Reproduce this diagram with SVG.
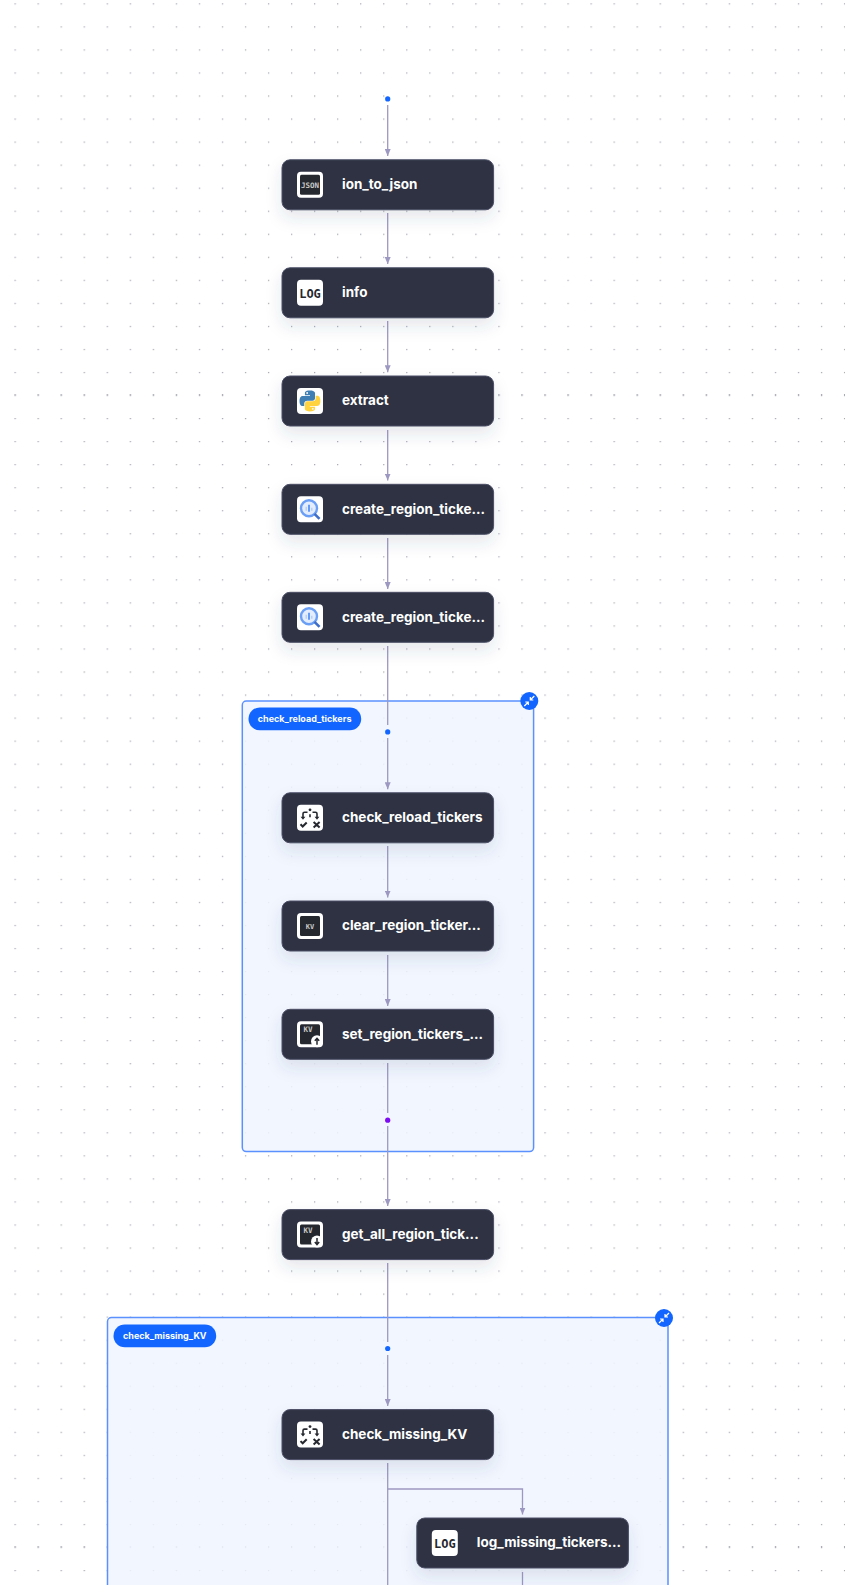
<svg xmlns="http://www.w3.org/2000/svg" xmlns:xlink="http://www.w3.org/1999/xlink" width="845" height="1585" viewBox="0 0 845 1585">
<style>
.t{font-family:"Inter","Liberation Sans",sans-serif;font-size:13.5px;font-weight:700;fill:#fff}
.p{font-family:"Inter","Liberation Sans",sans-serif;font-size:9px;font-weight:700;fill:#fff;text-anchor:middle}
.n{fill:#2e3342;stroke:#4b4e66;stroke-width:1}
.g{fill:#f0f5ff;fill-opacity:.85;stroke:#5b91ff;stroke-width:1.5}
.e{fill:none;stroke:#9d98c2;stroke-width:1.3}
.ib{fill:#fff}
.id{fill:#26282f}
.im{font-family:"DejaVu Sans Mono","Liberation Mono",monospace;font-weight:700;text-anchor:middle}
.s{fill:none;stroke:#26282f;stroke-width:1.6}
</style>
<defs>
<pattern id="dots" x="14.5" y="3.3" width="23.04" height="23.04" patternUnits="userSpaceOnUse">
<circle cx="0.6" cy="0.6" r="0.7" fill="#a0a2ad"/>
</pattern>
<marker id="arr" markerWidth="8" markerHeight="6" refX="7" refY="3" orient="auto" markerUnits="userSpaceOnUse">
<path d="M0 0L7 3L0 6Z" fill="#9d98c2"/>
</marker>
<filter id="sh" x="-20%" y="-40%" width="140%" height="200%">
<feDropShadow dx="0" dy="8" stdDeviation="8" flood-color="#3a3f66" flood-opacity=".12"/>
</filter>
<g id="ic-flow">
<rect class="ib" width="26" height="26" rx="4"/>
<circle cx="13" cy="5" r="1.4" fill="#26282f"/>
<path class="s" d="M10.500 7.500H7.500Q6 7.500 6 9V12.500M15.500 7.500H18.500Q20 7.500 20 9V12.500M13 9.500v3"/>
<path d="M3.600 12h4.800L6 15ZM17.600 12h4.800L20 15Z" fill="#26282f"/>
<path d="M3.500 19.500l2.200 2.200 4-4M16.600 17.300l6 5.500M22.600 17.300l-6 5.500" fill="none" stroke="#26282f" stroke-width="2"/>
</g>
<g id="ic-bq">
<rect class="ib" width="26" height="26" rx="4"/>
<circle cx="12" cy="12" r="8" fill="#e3edfe" stroke="#6a9ff5" stroke-width="2.400"/>
<path d="M12 8.500v7" stroke="#4285f4" stroke-width="1.600"/>
<path d="M9.200 10.500v4M14.800 11.500v3" stroke="#aac8f8" stroke-width="1.200"/>
<path d="M17.500 17.500L22.500 22.500" stroke="#3f6fc9" stroke-width="2.600"/>
</g>
<g id="ic-collapse">
<circle r="9" fill="#1266ff"/>
<path d="M1 -1L5 -5M1 -4V-1H4M-1 1L-5 5M-1 4V1H-4" fill="none" stroke="#fff" stroke-width="1.200"/>
</g>
</defs>
<rect width="845" height="1585" fill="#fff"/>
<rect width="845" height="1585" fill="url(#dots)"/>

<g id="group-check_reload_tickers">
<rect class="g" x="242.300" y="701" width="291.300" height="450.600" rx="4"/>
<rect x="248.500" y="707.500" width="112.700" height="22.700" rx="11.300" fill="#1266ff"/>
<text class="p" x="304.600" y="722">check_reload_tickers</text>
<use xlink:href="#ic-collapse" href="#ic-collapse" x="529.300" y="701"/>
</g>
<g id="group-check_missing_KV">
<path class="g" d="M107.500 1600V1321.600a4 4 0 0 1 4-4H664a4 4 0 0 1 4 4V1600"/>
<rect x="113.500" y="1324.500" width="102.700" height="22.700" rx="11.300" fill="#1266ff"/>
<text class="p" x="164.800" y="1339">check_missing_KV</text>
<use xlink:href="#ic-collapse" href="#ic-collapse" x="664" y="1318"/>
</g>

<g id="connectors">
<path class="e" marker-end="url(#arr)" d="M387.700 105V156"/>
<path class="e" marker-end="url(#arr)" d="M387.700 213V264"/>
<path class="e" marker-end="url(#arr)" d="M387.700 321V372.200"/>
<path class="e" marker-end="url(#arr)" d="M387.700 430V480.500"/>
<path class="e" marker-end="url(#arr)" d="M387.700 538V589"/>
<path class="e" d="M387.700 646V725"/>
<path class="e" marker-end="url(#arr)" d="M387.700 738V789.200"/>
<path class="e" marker-end="url(#arr)" d="M387.700 846V897.500"/>
<path class="e" marker-end="url(#arr)" d="M387.700 955V1006"/>
<path class="e" d="M387.700 1063V1113"/>
<path class="e" marker-end="url(#arr)" d="M387.700 1126V1206"/>
<path class="e" d="M387.700 1263V1342"/>
<path class="e" marker-end="url(#arr)" d="M387.700 1355V1406"/>
<path class="e" d="M387.700 1463V1585"/>
<path class="e" marker-end="url(#arr)" d="M387.700 1489H522.500V1514.500"/>
<path class="e" d="M522.500 1572V1585"/>
</g>
<circle id="start-dot" cx="387.700" cy="98.900" r="2.600" fill="#1266ff"/>
<circle id="reload-start-dot" cx="387.700" cy="731.900" r="2.600" fill="#1266ff"/>
<circle id="reload-end-dot" cx="387.700" cy="1120.200" r="2.600" fill="#7d0cf2"/>
<circle id="missing-start-dot" cx="387.700" cy="1348.500" r="2.600" fill="#1266ff"/>

<g id="node-ion_to_json" transform="translate(282 159.800)">
<rect class="n" width="211.600" height="50" rx="8" filter="url(#sh)"/>
<g transform="translate(15 12)"><rect class="ib" width="26" height="26" rx="4"/><rect class="id" x="3" y="3" width="20" height="20" rx="1.500"/><text class="im" x="13" y="16" font-size="7.500" fill="#c8c8c8">JSON</text></g>
<text class="t" x="60" y="29.400">ion_to_json</text>
</g>
<g id="node-info" transform="translate(282 267.800)">
<rect class="n" width="211.600" height="50" rx="8" filter="url(#sh)"/>
<g transform="translate(15 12)"><rect class="ib" width="26" height="26" rx="4"/><text class="im" x="13" y="18" font-size="12" fill="#26282f">LOG</text></g>
<text class="t" x="60" y="29.400">info</text>
</g>
<g id="node-extract" transform="translate(282 376)">
<rect class="n" width="211.600" height="50" rx="8" filter="url(#sh)"/>
<g transform="translate(15 12)"><rect class="ib" width="26" height="26" rx="4"/>
<g transform="translate(2.500 2.500) scale(.19)">
<path fill="#3f7fb3" d="M54.900 0C26.900 0 28.600 12.200 28.600 12.200l0 12.600h26.700v3.800H18c0 0-17.900-2-17.900 26.200s15.600 27.200 15.600 27.200h9.300V69s-.5-15.600 15.300-15.600h26.500s14.900.2 14.900-14.400V14.800S84 0 54.900 0zM40.200 8.500a4.800 4.800 0 110 9.600 4.800 4.800 0 010-9.600z"/>
<path fill="#ffd340" transform="rotate(180 55 55)" d="M54.900 0C26.900 0 28.600 12.200 28.600 12.200l0 12.600h26.700v3.800H18c0 0-17.900-2-17.900 26.200s15.600 27.200 15.600 27.200h9.300V69s-.5-15.600 15.300-15.600h26.500s14.900.2 14.900-14.400V14.800S84 0 54.900 0zM40.200 8.500a4.800 4.800 0 110 9.600 4.800 4.800 0 010-9.600z"/>
</g></g>
<text class="t" x="60" y="29.400">extract</text>
</g>
<g id="node-create_region_1" transform="translate(282 484.300)">
<rect class="n" width="211.600" height="50" rx="8" filter="url(#sh)"/>
<use xlink:href="#ic-bq" href="#ic-bq" x="15" y="12"/>
<text class="t" x="60" y="29.400">create_region_ticke...</text>
</g>
<g id="node-create_region_2" transform="translate(282 592.300)">
<rect class="n" width="211.600" height="50" rx="8" filter="url(#sh)"/>
<use xlink:href="#ic-bq" href="#ic-bq" x="15" y="12"/>
<text class="t" x="60" y="29.400">create_region_ticke...</text>
</g>
<g id="node-check_reload_tickers" transform="translate(282 792.800)">
<rect class="n" width="211.600" height="50" rx="8" filter="url(#sh)"/>
<use xlink:href="#ic-flow" href="#ic-flow" x="15" y="12"/>
<text class="t" x="60" y="29.400">check_reload_tickers</text>
</g>
<g id="node-clear_region" transform="translate(282 901)">
<rect class="n" width="211.600" height="50" rx="8" filter="url(#sh)"/>
<g transform="translate(15 12)"><rect class="ib" width="26" height="26" rx="4"/><rect class="id" x="3" y="3" width="20" height="20" rx="1.500"/><text class="im" x="13" y="15.500" font-size="7" fill="#c8c8c8">KV</text></g>
<text class="t" x="60" y="29.400">clear_region_ticker...</text>
</g>
<g id="node-set_region" transform="translate(282 1009.300)">
<rect class="n" width="211.600" height="50" rx="8" filter="url(#sh)"/>
<g transform="translate(15 12)"><rect class="ib" width="26" height="26" rx="4"/><rect class="id" x="3" y="3" width="20" height="20" rx="1.500"/><text class="im" x="11" y="11" font-size="7.500" fill="#c8c8c8">KV</text><circle cx="20" cy="20" r="6" fill="#fff"/><path d="M20 23.500V17.500M17.800 19.500L20 17L22.200 19.500" fill="none" stroke="#26282f" stroke-width="1.500"/></g>
<text class="t" x="60" y="29.400">set_region_tickers_...</text>
</g>
<g id="node-get_all_region" transform="translate(282 1209.600)">
<rect class="n" width="211.600" height="50" rx="8" filter="url(#sh)"/>
<g transform="translate(15 12)"><rect class="ib" width="26" height="26" rx="4"/><rect class="id" x="3" y="3" width="20" height="20" rx="1.500"/><text class="im" x="11" y="11" font-size="7.500" fill="#c8c8c8">KV</text><circle cx="20" cy="20" r="6" fill="#fff"/><path d="M20 16.500V22.500M17.800 20.500L20 23L22.200 20.500" fill="none" stroke="#26282f" stroke-width="1.500"/></g>
<text class="t" x="60" y="29.400">get_all_region_tick...</text>
</g>
<g id="node-check_missing_KV" transform="translate(282 1409.600)">
<rect class="n" width="211.600" height="50" rx="8" filter="url(#sh)"/>
<use xlink:href="#ic-flow" href="#ic-flow" x="15" y="12"/>
<text class="t" x="60" y="29.400">check_missing_KV</text>
</g>
<g id="node-log_missing" transform="translate(416.800 1518)">
<rect class="n" width="211.600" height="50" rx="8" filter="url(#sh)"/>
<g transform="translate(15 12)"><rect class="ib" width="26" height="26" rx="4"/><text class="im" x="13" y="18" font-size="12" fill="#26282f">LOG</text></g>
<text class="t" x="60" y="29.400">log_missing_tickers...</text>
</g>
</svg>
